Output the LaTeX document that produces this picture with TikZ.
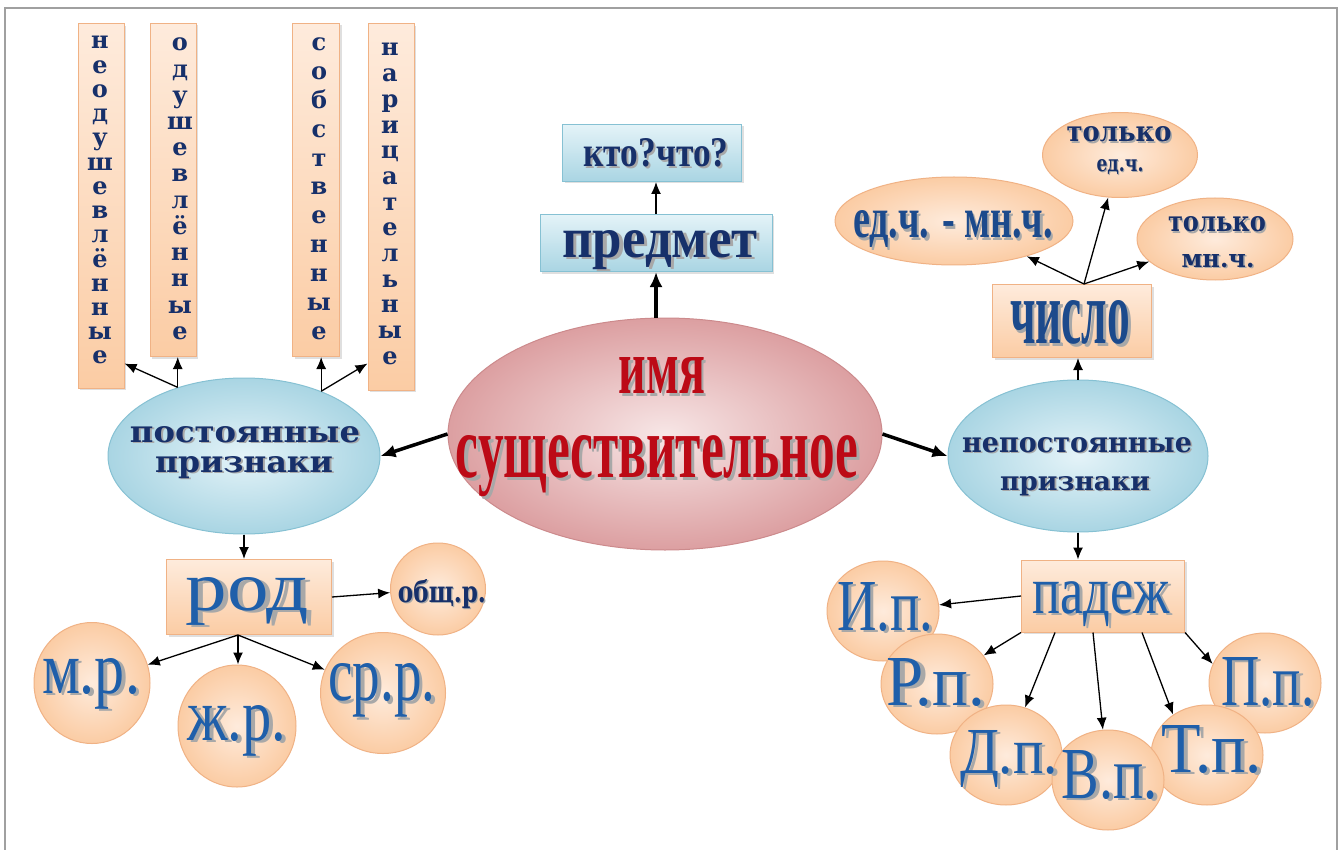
\documentclass[tikz,border=0pt]{standalone}
\usepackage{fontspec}
\setmainfont{Liberation Serif}
\newfontfamily\wideserif{DejaVu Serif}
\usepackage{graphicx}
\usetikzlibrary{arrows.meta,positioning,shapes.geometric,shadows}

\definecolor{navy}{HTML}{17306A}
\definecolor{midblue}{HTML}{1F5FAA}
\definecolor{deepblue}{HTML}{1C4A8C}
\definecolor{darkred}{HTML}{BC0A16}
\definecolor{shade}{HTML}{A8A8A8}
\definecolor{peachL}{HTML}{FEEBDC}
\definecolor{peachD}{HTML}{FBCCA4}
\definecolor{peachB}{HTML}{F0B285}
\definecolor{skyL}{HTML}{E4F3F8}
\definecolor{skyD}{HTML}{A9D5E3}
\definecolor{skyB}{HTML}{86C1D3}
\definecolor{roseL}{HTML}{F7E6E6}
\definecolor{roseD}{HTML}{DC9FA1}
\definecolor{roseB}{HTML}{CC8A8C}
\definecolor{framegray}{HTML}{A0A0A0}

% text with a grey shadow, and the same fitted to a width and height
\newcommand{\sh}[1]{\makebox[0pt][l]{\hspace{.06em}\raisebox{-.04em}{\textcolor{shade}{#1}}}#1}
\newcommand{\fitx}[3]{\resizebox{#1pt}{#2pt}{\sh{#3}}}

\begin{document}
\begin{tikzpicture}[x=1pt, y=-1pt,
    orangebox/.style={draw=peachB, line width=1pt, top color=peachL, bottom color=peachD,
        inner sep=0pt, drop shadow={shadow xshift=2pt, shadow yshift=-2pt, opacity=.25}},
    bluebox/.style={draw=skyB, line width=1pt, top color=skyL, bottom color=skyD,
        inner sep=0pt, drop shadow={shadow xshift=2pt, shadow yshift=-2pt, opacity=.25}},
    blueoval/.style={ellipse, draw=skyB, line width=1pt, inner color=skyL, outer color=skyD, inner sep=0pt},
    peachoval/.style={ellipse, draw=peachB, line width=1pt, inner color=peachL, outer color=peachD, inner sep=0pt},
    roseoval/.style={ellipse, draw=roseB, line width=1pt, inner color=roseL, outer color=roseD, inner sep=0pt},
    lbl/.style={anchor=base, inner sep=0pt},
    vlet/.style={lbl, text=navy, font=\wideserif\bfseries\fontsize{24}{24}\selectfont},
    arr/.style={-{Latex[length=12pt, width=10pt]}, line width=1.3pt},
    bigarr/.style={-{Latex[length=15pt, width=13pt]}, line width=3.5pt},
  ]
    \useasboundingbox (0,0) rectangle (1343,850);
    \fill[white] (0,0) rectangle (1343,850);

    % Frame
    \draw[framegray, line width=2pt] (5,850) -- (5,8) -- (1337,8) -- (1337,850);

    % Vertical boxes
    \node[orangebox, minimum width=46, minimum height=364] (inanim) at (101,206) {};
    \node[orangebox, minimum width=46, minimum height=333] (anim) at (173,190) {};
    \node[orangebox, minimum width=47, minimum height=333] (proper) at (316,190) {};
    \node[orangebox, minimum width=46, minimum height=366] (common) at (391,207) {};

    \foreach \l [count=\i] in {н,е,о,д,у,ш,е,в,л,ё,н,н,ы,е}
        \node[vlet] at (100, {49+24.23*(\i-1)}) {\l};
    \foreach \l [count=\i] in {о,д,у,ш,е,в,л,ё,н,н,ы,е}
        \node[vlet] at (180, {51+26.2*(\i-1)}) {\l};
    \foreach \l [count=\i] in {с,о,б,с,т,в,е,н,н,ы,е}
        \node[vlet] at (319, {51+28.8*(\i-1)}) {\l};
    \foreach \l [count=\i] in {н,а,р,и,ц,а,т,е,л,ь,н,ы,е}
        \node[vlet] at (390, {56+25.67*(\i-1)}) {\l};

    % Main ovals
    \node[blueoval, minimum width=272, minimum height=156] (const) at (244,456) {};
    \node[roseoval, minimum width=434, minimum height=232] (noun) at (665,434) {};
    \node[blueoval, minimum width=260, minimum height=152] (var) at (1078,456) {};

    \node[lbl, text=darkred, font=\bfseries] at (662,393) {\fitx{86}{36}{имя}};
    \node[lbl, text=darkred, font=\bfseries] at (657,477) {\fitx{402}{42}{существительное}};
    \node[lbl, text=navy, font=\wideserif\bfseries] at (245,442) {\fitx{230}{16}{постоянные}};
    \node[lbl, text=navy, font=\wideserif\bfseries] at (244,472) {\fitx{178}{16}{признаки}};
    \node[lbl, text=navy, font=\wideserif\bfseries] at (1077,452) {\fitx{230}{15}{непостоянные}};
    \node[lbl, text=navy, font=\wideserif\bfseries] at (1075,490) {\fitx{150}{14}{признаки}};

    % Object
    \node[bluebox, minimum width=232, minimum height=57] (obj) at (656,243) {};
    \node[bluebox, minimum width=179, minimum height=57] (question) at (652,153) {};
    \node[lbl, text=navy, font=\bfseries] at (660,257) {\fitx{195}{27}{предмет}};
    \node[lbl, text=navy, font=\bfseries] at (656,167) {\fitx{145}{28}{кто?что?}};

    % Number
    \node[orangebox, minimum width=159, minimum height=73] (number) at (1072,321) {};
    \node[peachoval, minimum width=238, minimum height=88] (sgpl) at (954,221) {};
    \node[peachoval, minimum width=155, minimum height=85] (sgonly) at (1120,155) {};
    \node[peachoval, minimum width=156, minimum height=82] (plonly) at (1215,239) {};
    \node[lbl, text=deepblue, font=\bfseries] at (1070,343) {\fitx{120}{43}{число}};
    \node[lbl, text=deepblue, font=\bfseries] at (953,238) {\fitx{200}{27}{ед.ч. - мн.ч.}};
    \node[lbl, text=navy, font=\wideserif\bfseries] at (1119,142) {\fitx{105}{15}{только}};
    \node[lbl, text=navy, font=\wideserif\bfseries] at (1120,172) {\fitx{47}{12}{ед.ч.}};
    \node[lbl, text=navy, font=\wideserif\bfseries] at (1217,232) {\fitx{98}{15}{только}};
    \node[lbl, text=navy, font=\wideserif\bfseries] at (1218,267) {\fitx{73}{13}{мн.ч.}};

    % Gender
    \node[orangebox, minimum width=165, minimum height=75] (gender) at (249,597) {};
    \node[peachoval, minimum width=95, minimum height=92] (comg) at (438,589) {};
    \node[peachoval, minimum width=116, minimum height=121] (masc) at (92,683) {};
    \node[peachoval, minimum width=118, minimum height=122] (fem) at (237,726) {};
    \node[peachoval, minimum width=125, minimum height=121] (neut) at (383,693) {};
    \node[lbl, text=midblue] at (247,610) {\fitx{123}{33}{род}};
    \node[lbl, text=navy, font=\wideserif\bfseries] at (442,602) {\fitx{88}{23}{общ.р.}};
    \node[lbl, text=midblue] at (91,693) {\fitx{98}{35}{м.р.}};
    \node[lbl, text=midblue] at (237,740) {\fitx{99}{35}{ж.р.}};
    \node[lbl, text=midblue] at (382,700) {\fitx{107}{37}{ср.р.}};

    % Case
    \node[orangebox, minimum width=163, minimum height=72] (case) at (1103,596) {};
    \foreach \n/\x/\y in {nom/883/611, gen/937/684, dat/1006/755, pre/1265/683, ins/1207/755, acc/1108/780}
        \node[peachoval, minimum width=112, minimum height=100] (\n) at (\x,\y) {};
    \node[lbl, text=midblue] at (1101,613) {\fitx{137}{32}{падеж}};
    \node[lbl, text=midblue] at (885,630) {\fitx{96}{48}{И.п.}};
    \node[lbl, text=midblue] at (936,705) {\fitx{98}{47}{Р.п.}};
    \node[lbl, text=midblue] at (1009,773) {\fitx{98}{43}{Д.п.}};
    \node[lbl, text=midblue] at (1110,798) {\fitx{96}{48}{В.п.}};
    \node[lbl, text=midblue] at (1212,772) {\fitx{100}{47}{Т.п.}};
    \node[lbl, text=midblue] at (1268,705) {\fitx{93}{48}{П.п.}};

    % Connectors
    \draw[bigarr] (noun.west) -- (const.east);
    \draw[bigarr] (noun.east) -- (var.west);
    \draw[bigarr] (obj.south |- noun.north) -- (obj.south);
    \draw[arr] (obj.north) -- (obj.north |- question.south);

    \draw[arr] (const.134) -- ([yshift=25pt]inanim.south east);
    \draw[arr] (const.134) -- (const.134 |- anim.south);
    \draw[arr] (const.40) -- (const.40 |- proper.south);
    \draw[arr] (const.40) -- ([yshift=27pt]common.south west);

    \draw[arr] (const.south) -- (const.south |- gender.north);
    \draw[arr] (gender.east) -- (comg);
    \coordinate (gtail) at ([xshift=-11pt]gender.south);
    \draw[arr] (gtail) -- (masc);
    \draw[arr] (gtail) -- (gtail |- fem.north);
    \draw[arr] (gtail) -- (neut);

    \draw[arr] (var.north) -- (var.north |- number.south);
    \coordinate (ntail) at ([xshift=12pt]number.north);
    \draw[arr] (ntail) -- (sgpl);
    \draw[arr] (ntail) -- (sgonly);
    \draw[arr] (ntail) -- (plonly);

    \draw[arr] (var.south) -- (var.south |- case.north);
    \draw[arr] (case.west) -- (nom);
    \draw[arr] (case.south west) -- (gen);
    \draw[arr] ([xshift=-48pt]case.south) -- (dat);
    \draw[arr] ([xshift=-10pt]case.south) -- (acc);
    \draw[arr] ([xshift=39pt]case.south) -- (ins.130);
    \draw[arr] (case.south east) -- (pre.160);
\end{tikzpicture}
\end{document}
